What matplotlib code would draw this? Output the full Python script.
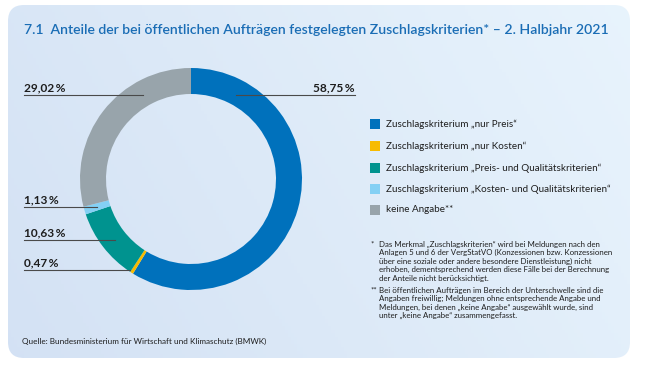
import numpy as np
import matplotlib
matplotlib.use('Agg')
import matplotlib.pyplot as plt
from matplotlib.patches import FancyBboxPatch, Rectangle

# Daten
kategorien = ['Zuschlagskriterium „nur Preis“',
              'Zuschlagskriterium „nur Kosten“',
              'Zuschlagskriterium „Preis- und Qualitätskriterien“',
              'Zuschlagskriterium „Kosten- und Qualitätskriterien“',
              'keine Angabe**']
anteile = [58.75, 0.47, 10.63, 1.13, 29.02]
farben = ['#0071bc', '#f7bb00', '#00938f', '#84d0f4', '#98a4ab']
labels = ['58,75\u2009%', '0,47\u2009%', '10,63\u2009%', '1,13\u2009%', '29,02\u2009%']

titel = '7.1  Anteile der bei öffentlichen Aufträgen festgelegten Zuschlagskriterien* – 2. Halbjahr 2021'
fussnote1 = ['Das Merkmal „Zuschlagskriterien“ wird bei Meldungen nach den',
             'Anlagen 5 und 6 der VergStatVO (Konzessionen bzw. Konzessionen',
             'über eine soziale oder andere besondere Dienstleistung) nicht',
             'erhoben, dementsprechend werden diese Fälle bei der Berechnung',
             'der Anteile nicht berücksichtigt.']
fussnote2 = ['Bei öffentlichen Aufträgen im Bereich der Unterschwelle sind die',
             'Angaben freiwillig; Meldungen ohne entsprechende Angabe und',
             'Meldungen, bei denen „keine Angabe“ ausgewählt wurde, sind',
             'unter „keine Angabe“ zusammengefasst.']
quelle = 'Quelle: Bundesministerium für Wirtschaft und Klimaschutz (BMWK)'

plt.rcParams['font.family'] = ['Lato', 'DejaVu Sans']

H = 366
fig = plt.figure(figsize=(6.5, 3.66), dpi=100)
ax = fig.add_axes([0, 0, 1, 1])

def Y(y):
    return H - y

# Ring
cx, cy = 191, Y(179)
ax.pie(anteile, colors=farben, startangle=90, counterclock=False,
       center=(cx, cy), radius=111, frame=True,
       wedgeprops=dict(width=26, linewidth=0))
ax.set_xlim(0, 650)
ax.set_ylim(0, H)
ax.set_aspect('equal')
ax.axis('off')

# Hintergrund mit Verlauf
panel = FancyBboxPatch((8, Y(358)), 622, 353, boxstyle='round,pad=0,rounding_size=16',
                       facecolor='none', edgecolor='none')
ax.add_patch(panel)
gx, gy = np.meshgrid(np.linspace(0, 1, 200), np.linspace(0, 1, 100))
t = np.clip(0.75 * gx + 0.25 * (1 - gy), 0, 1)
c0 = np.array([0.83, 0.885, 0.957])
c1 = np.array([0.91, 0.955, 0.99])
grad = c0[None, None, :] * (1 - t[..., None]) + c1[None, None, :] * t[..., None]
im = ax.imshow(grad, extent=(8, 630, Y(358), Y(5)), origin='upper', zorder=0, aspect='auto')
im.set_clip_path(panel)
ax.set_xlim(0, 650)
ax.set_ylim(0, H)

# Titel
ax.text(24, Y(30), titel, fontsize=10.1, color='#1a6db5', fontweight='semibold',
        va='center', ha='left')

# Beschriftungen mit Hinweislinien
lab_pos = {
    '58,75\u2009%': (355, 88, 236, 'right'),
    '29,02\u2009%': (24, 88, 143, 'left'),
    '1,13\u2009%': (24, 200, 97, 'left'),
    '10,63\u2009%': (24, 233, 115, 'left'),
    '0,47\u2009%': (24, 263, 130, 'left'),
}
for lab in labels:
    x, y, xe, ha = lab_pos[lab]
    ax.text(x, Y(y), lab, fontsize=8.6, fontweight='bold', color='#1e1e1e',
            ha=ha, va='center')
    ax.plot([x, xe], [Y(y + 7), Y(y + 7)], color='#4a4a4a', lw=0.8, zorder=5)

# Legende
leg_y = [124, 146, 168, 189, 210]
for k, f, y in zip(kategorien, farben, leg_y):
    ax.add_patch(Rectangle((370, Y(y) - 5), 10, 10, facecolor=f, edgecolor='none'))
    ax.text(386, Y(y), k, fontsize=7.1, color='#1e1e1e', va='center', ha='left')

# Fußnoten
ax.text(374, Y(244), '*', fontsize=5.7, color='#1e1e1e', va='center', ha='right')
for i, z in enumerate(fussnote1):
    ax.text(379, Y(244 + 8.5 * i), z, fontsize=5.7, color='#1e1e1e', va='center')
ax.text(377, Y(290), '**', fontsize=5.7, color='#1e1e1e', va='center', ha='right')
for i, z in enumerate(fussnote2):
    ax.text(379, Y(290 + 8.6 * i), z, fontsize=5.7, color='#1e1e1e', va='center')

ax.text(22, Y(341), quelle, fontsize=5.9, color='#1e1e1e', va='center')

fig.savefig('out.png', dpi=100, facecolor='white')
